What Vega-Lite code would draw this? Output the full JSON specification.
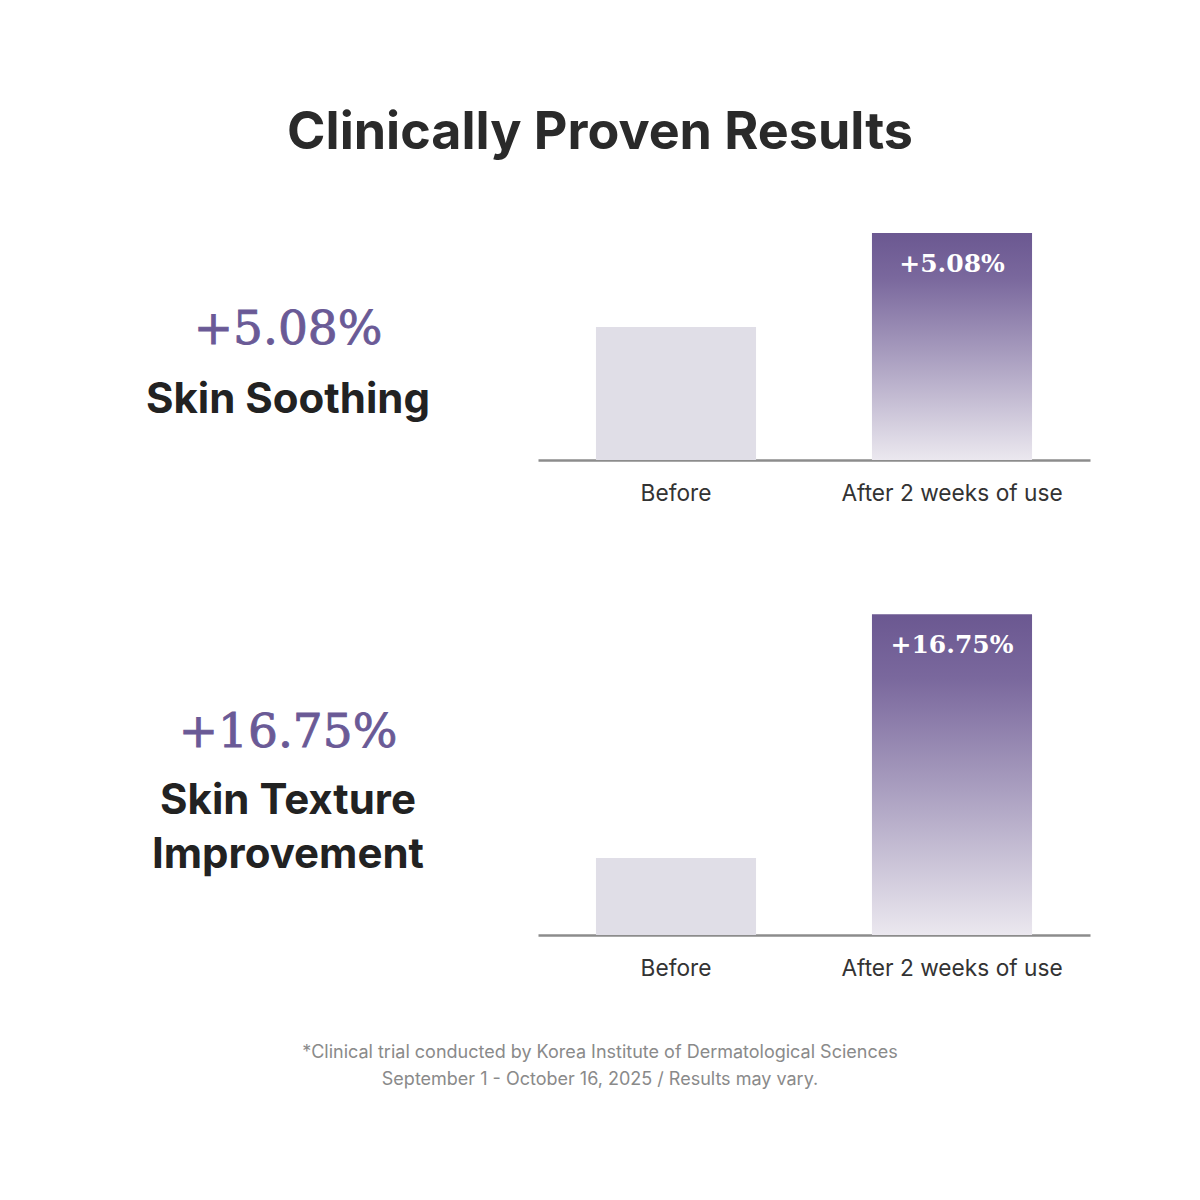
{
  "$schema": "https://vega.github.io/schema/vega-lite/v6.json",
  "background": "#ffffff",
  "padding": 0,
  "spacing": 0,
  "config": {
    "view": {"stroke": null},
    "font": "Inter",
    "concat": {"spacing": 0},
    "axisX": {
      "title": null, "labelAngle": 0, "ticks": false, "grid": false,
      "domainColor": "#8c8c8c", "domainWidth": 2.5,
      "labelPadding": 22, "labelFontSize": 22.7, "labelFont": "Inter", "labelColor": "#333333",
      "labelLimit": 0, "minExtent": 50, "maxExtent": 50
    }
  },
  "datasets": {
    "metrics": [
      {"metric": "Skin Soothing", "label": "Skin Soothing", "change": "+5.08%"},
      {"metric": "Skin Texture Improvement", "label": "Skin Texture\nImprovement", "change": "+16.75%"}
    ],
    "bars": [
      {"metric": "Skin Soothing", "stage": "Before", "score": 51.2, "change": ""},
      {"metric": "Skin Soothing", "stage": "After 2 weeks of use", "score": 87.3, "change": "+5.08%"},
      {"metric": "Skin Texture Improvement", "stage": "Before", "score": 18.1, "change": ""},
      {"metric": "Skin Texture Improvement", "stage": "After 2 weeks of use", "score": 75.5, "change": "+16.75%"}
    ],
    "heading": [{"text": "Clinically Proven Results"}],
    "footnote": [{"text": "*Clinical trial conducted by Korea Institute of Dermatological Sciences\nSeptember 1 - October 16, 2025 / Results may vary."}]
  },
  "vconcat": [
    {
      "width": 1200,
      "height": 200,
      "data": {"name": "heading"},
      "mark": {"type": "text", "font": "Inter", "fontSize": 52, "fontWeight": 700, "color": "#2a2a2a", "dy": 33},
      "encoding": {"text": {"field": "text"}}
    },
    {
      "hconcat": [
        {
          "width": 538,
          "height": 260,
          "data": {"name": "metrics"},
          "transform": [{"filter": "datum.metric === 'Skin Soothing'"}],
          "layer": [
            {
              "mark": {"type": "text", "font": "DejaVu Serif", "fontSize": 47, "color": "#6a5a96", "stroke": "#6a5a96", "strokeWidth": 0.9, "dx": 19, "dy": 0},
              "encoding": {"text": {"field": "change"}}
            },
            {
              "mark": {"type": "text", "font": "Inter", "fontSize": 42, "fontWeight": 700, "color": "#222222", "dx": 19, "dy": 70, "lineBreak": "\n", "lineHeight": 54},
              "encoding": {"text": {"field": "label"}}
            }
          ]
        },
        {
          "width": 552,
          "height": 260,
          "data": {"name": "bars"},
          "transform": [{"filter": "datum.metric === 'Skin Soothing'"}],
          "encoding": {
            "x": {
              "field": "stage", "type": "nominal", "sort": ["Before", "After 2 weeks of use"],
              "scale": {"paddingInner": 0.42, "paddingOuter": 0.21}
            },
            "y": {"field": "score", "type": "quantitative", "scale": {"domain": [0, 100]}, "axis": null}
          },
          "layer": [
            {"transform": [{"filter": "datum.stage === 'Before'"}], "mark": {"type": "bar", "color": "#e0dee7"}},
            {
              "transform": [{"filter": "datum.stage !== 'Before'"}],
              "mark": {"type": "bar", "color": {"gradient": "linear", "x1": 0, "y1": 0, "x2": 0, "y2": 1, "stops": [
                {"offset": 0, "color": "#6b5891"},
                {"offset": 0.2, "color": "#7a689d"},
                {"offset": 0.55, "color": "#aa9fc0"},
                {"offset": 1, "color": "#ebe8ef"}
              ]}}
            },
            {
              "transform": [{"filter": "datum.stage !== 'Before'"}],
              "mark": {"type": "text", "font": "DejaVu Serif", "fontWeight": "bold", "fontSize": 25, "color": "#ffffff", "dy": 31},
              "encoding": {"text": {"field": "change"}}
            }
          ]
        }
      ]
    },
    {
      "hconcat": [
        {
          "width": 538,
          "height": 425,
          "data": {"name": "metrics"},
          "transform": [{"filter": "datum.metric === 'Skin Texture Improvement'"}],
          "layer": [
            {
              "mark": {"type": "text", "font": "DejaVu Serif", "fontSize": 47, "color": "#6a5a96", "stroke": "#6a5a96", "strokeWidth": 0.9, "dx": 19, "dy": 10.5},
              "encoding": {"text": {"field": "change"}}
            },
            {
              "mark": {"type": "text", "font": "Inter", "fontSize": 42, "fontWeight": 700, "color": "#222222", "dx": 19, "dy": 78.5, "lineBreak": "\n", "lineHeight": 54},
              "encoding": {"text": {"field": "label"}}
            }
          ]
        },
        {
          "width": 552,
          "height": 425,
          "data": {"name": "bars"},
          "transform": [{"filter": "datum.metric === 'Skin Texture Improvement'"}],
          "encoding": {
            "x": {
              "field": "stage", "type": "nominal", "sort": ["Before", "After 2 weeks of use"],
              "scale": {"paddingInner": 0.42, "paddingOuter": 0.21}
            },
            "y": {"field": "score", "type": "quantitative", "scale": {"domain": [0, 100]}, "axis": null}
          },
          "layer": [
            {"transform": [{"filter": "datum.stage === 'Before'"}], "mark": {"type": "bar", "color": "#e0dee7"}},
            {
              "transform": [{"filter": "datum.stage !== 'Before'"}],
              "mark": {"type": "bar", "color": {"gradient": "linear", "x1": 0, "y1": 0, "x2": 0, "y2": 1, "stops": [
                {"offset": 0, "color": "#6b5891"},
                {"offset": 0.2, "color": "#7a689d"},
                {"offset": 0.55, "color": "#aa9fc0"},
                {"offset": 1, "color": "#ebe8ef"}
              ]}}
            },
            {
              "transform": [{"filter": "datum.stage !== 'Before'"}],
              "mark": {"type": "text", "font": "DejaVu Serif", "fontWeight": "bold", "fontSize": 25, "color": "#ffffff", "dy": 31},
              "encoding": {"text": {"field": "change"}}
            }
          ]
        }
      ]
    },
    {
      "width": 1200,
      "height": 215,
      "data": {"name": "footnote"},
      "mark": {"type": "text", "font": "Inter", "fontSize": 18, "color": "#8a8a8a", "dy": -39.5, "lineBreak": "\n", "lineHeight": 27},
      "encoding": {"text": {"field": "text"}}
    }
  ]
}
